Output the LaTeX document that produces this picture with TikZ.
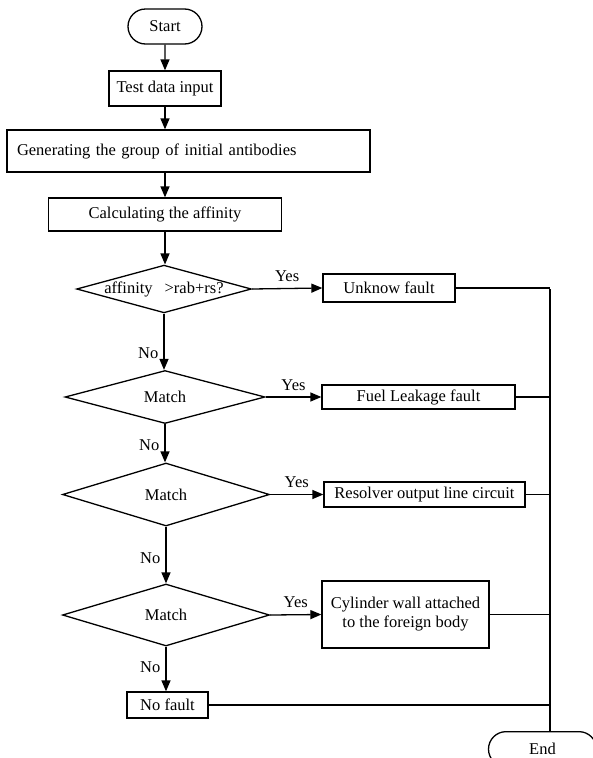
\documentclass[tikz,border=0pt]{standalone}
\usepackage{fontspec}
\setmainfont{Liberation Serif}
\usetikzlibrary{shapes.geometric,shapes.misc,arrows.meta}

\tikzset{
    box/.style={draw,rectangle,line width=1.3pt,inner sep=0pt},
    term/.style={draw,rounded rectangle,line width=1.3pt,inner sep=0pt},
    decision/.style={draw,diamond,line width=1.3pt,inner sep=0pt},
    arrow/.style={line width=1.3pt,-{Triangle[length=11pt,width=9pt]}},
    wire/.style={line width=1.3pt},
}

\begin{document}
\begin{tikzpicture}[x=1pt,y=-1pt,font=\fontsize{16.5}{19}\selectfont]
    \useasboundingbox (0,0) rectangle (592,758);

    % main column
    \node[term,minimum width=74pt,minimum height=35pt] (start) at (165,26.5) {Start};
    \node[box,minimum width=112pt,minimum height=35pt] (input) at (165,88.5) {Test data input};
    \node[box,minimum width=363pt,minimum height=42pt,text width=343pt,align=left] (group) at (188.5,151) {Generating the group of initial antibodies};
    \node[box,minimum width=233pt,minimum height=33pt] (calc) at (165,214.5) {Calculating the affinity};

    \node[decision,minimum width=172pt,minimum height=47pt,shape aspect=3.66] (d1) at (164,289) {affinity\hspace{12pt}>rab+rs?};
    \node[decision,minimum width=200pt,minimum height=53pt,shape aspect=3.7] (d2) at (165,397) {Match};
    \node[decision,minimum width=207pt,minimum height=63pt,shape aspect=3.3] (d3) at (166,494.5) {Match};
    \node[decision,minimum width=207pt,minimum height=62pt,shape aspect=3.3] (d4) at (166,615) {Match};
    \node[box,minimum width=81pt,minimum height=26pt] (nofault) at (167.5,705) {No fault};

    % fault column
    \node[box,minimum width=132pt,minimum height=28pt] (unknow) at (389,288) {Unknow fault};
    \node[box,minimum width=193pt,minimum height=24pt] (fuel) at (418.5,397) {Fuel Leakage fault};
    \node[box,minimum width=201pt,minimum height=25pt] (resolver) at (424.5,494.5) {Resolver output line circuit};
    \node[box,minimum width=167pt,minimum height=67pt,align=center] (cylinder) at (405.5,614.5) {Cylinder wall attached\\to the foreign body};

    \node[term,minimum width=108pt,minimum height=35pt,anchor=north west] (end) at (506,731) {End};
    \coordinate (bus) at (550,289);

    \draw[arrow] (start) -- (input);
    \draw[arrow] (input) -- (input |- group.north);
    \draw[arrow] (calc |- group.south) -- (calc);
    \draw[arrow] (calc) -- (calc |- d1.north);

    \draw[arrow] (d1) -- node[left,pos=0.7,inner sep=5pt] {No} (d1 |- d2.north);
    \draw[arrow] (d2) -- node[left,pos=0.55,inner sep=5pt] {No} (d2 |- d3.north);
    \draw[arrow] (d3) -- node[left,pos=0.55,inner sep=5pt] {No} (d3 |- d4.north);
    \draw[arrow] (d4) -- node[left,pos=0.45,inner sep=5pt] {No} (d4 |- nofault.north);

    \foreach \test/\fault in {d1/unknow, d2/fuel, d3/resolver, d4/cylinder} {
        \draw[arrow] (\test.east) -- node[above,inner sep=6pt] {Yes} (\fault.west);
    }

    % lines to the end
    \foreach \fault in {unknow, fuel, resolver, cylinder, nofault} {
        \draw[wire] (\fault.east) -- (\fault.east -| bus);
    }
    \draw[wire] (bus) -- (bus |- end.north);
\end{tikzpicture}
\end{document}
